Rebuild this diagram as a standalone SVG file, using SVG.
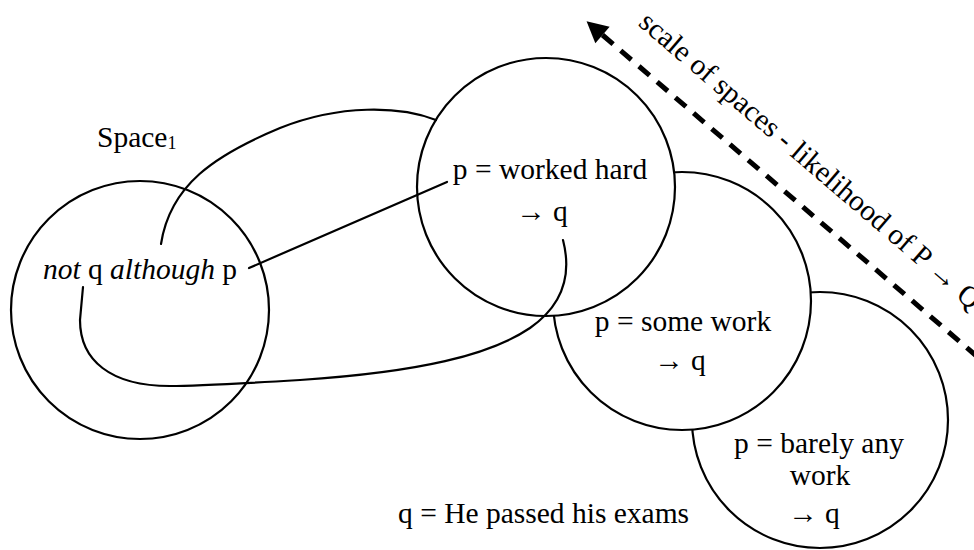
<svg xmlns="http://www.w3.org/2000/svg" width="974" height="550" viewBox="0 0 974 550">
  <style>
    .c { fill: #ffffff; stroke: #000000; stroke-width: 2.2; }
    .t { font-family: "Liberation Serif", "Times New Roman", serif; font-size: 29.5px; fill: #000000; }
    .m { text-anchor: middle; }
    .ln { fill: none; stroke: #000000; stroke-width: 2.2; stroke-linecap: round; }
    .dash { fill: none; stroke: #000000; stroke-width: 5; stroke-dasharray: 14 10; }
  </style>
  <defs>
    <marker id="ah" markerUnits="userSpaceOnUse" markerWidth="24" markerHeight="24" viewBox="-1 -12 24 24" refX="0" refY="0" orient="auto-start-reverse">
      <path d="M0,-11 L21,0 L0,11 z" fill="#000000"/>
    </marker>
  </defs>
  <rect width="974" height="550" fill="#ffffff"/>

  <g id="space4">
    <circle class="c" cx="820" cy="420" r="128"/>
    <text class="t m" x="819" y="453">p = barely any</text>
    <text class="t m" x="820" y="485">work</text>
    <text class="t m" x="814" y="523">→ q</text>
  </g>
  <g id="space3">
    <circle class="c" cx="682" cy="301" r="129"/>
    <text class="t m" x="683" y="331">p = some work</text>
    <text class="t m" x="680" y="370">→ q</text>
  </g>
  <g id="space2">
    <circle class="c" cx="546" cy="187" r="129"/>
    <text class="t m" x="550" y="179">p = worked hard</text>
    <text class="t m" x="542" y="221">→ q</text>
  </g>
  <g id="space1">
    <circle class="c" cx="140" cy="310" r="129"/>
    <text class="t m" x="140" y="279"><tspan font-style="italic">not</tspan> q <tspan font-style="italic">although</tspan> p</text>
  </g>
  <g id="space1-label">
    <text class="t" x="97" y="147">Space<tspan font-size="18" dy="2">1</tspan></text>
  </g>
  <g id="legend">
    <text class="t" x="398" y="523">q = He passed his exams</text>
  </g>

  <g id="connectors">
    <line class="ln" x1="249" y1="268" x2="447" y2="182"/>
    <path class="ln" d="M161,244 C170,185 215,155 280,128 C340,104 400,106 436,120"/>
    <path class="ln" d="M563,240 C572,275 563,305 530,328 C490,355 420,372 300,380 C250,383 200,386 170,386 C110,386 80,360 80,320 L83,287"/>
    <line class="dash" x1="602.5" y1="35" x2="980" y2="359" marker-start="url(#ah)"/>
  </g>
  <g id="scale-label">
    <text class="t" transform="translate(615.7,45.7) rotate(40.6)" x="2.7" y="-30">scale of spaces - likelihood of P → Q</text>
  </g>
</svg>
